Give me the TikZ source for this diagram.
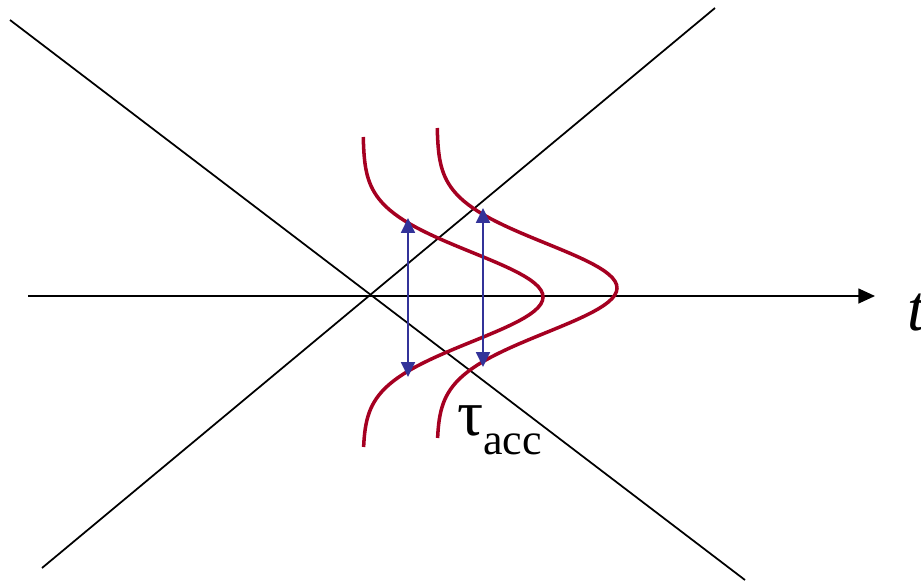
\documentclass[tikz,border=0pt]{standalone}
\usepackage{fontspec}
\setmainfont{Liberation Serif}
\usetikzlibrary{arrows.meta}
\definecolor{pulsered}{RGB}{165,0,33}
\definecolor{sweepblue}{RGB}{51,51,153}
\tikzset{
  guide/.style={line width=1pt},
  pulse/.style={pulsered,line width=2pt},
  sweep/.style={sweepblue,line width=0.85pt,{Triangle[length=8.5pt,width=8pt]}-{Triangle[length=8.5pt,width=8pt]}},
  bigtext/.style={anchor=base west,inner sep=0pt,font=\fontsize{37}{40}\selectfont}
}

\begin{document}
\begin{tikzpicture}[x=0.02cm,y=-0.02cm]
  \clip (0,0) rectangle (921,585);
  \coordinate (P) at (10,20); \coordinate (Q) at (745,580);
  \coordinate (R) at (42,568); \coordinate (S) at (715,8);
  \coordinate (O) at (28,296); \coordinate (T) at (875,296);
  \coordinate (A1) at (408,218); \coordinate (B1) at (408,377);
  \coordinate (A2) at (483,208); \coordinate (B2) at (483,367);
  \draw[guide] (P) -- (Q); \draw[guide] (R) -- (S);
  \draw[guide,-{Triangle[length=9.5pt,width=8.5pt]}] (O) -- (T);
  \draw[pulse] plot[domain=-160:150,samples=90,variable=\y] ({363+180*exp(-(\y/63)*(\y/63))},{297+\y});
  \draw[pulse] plot[domain=-160:150,samples=90,variable=\y] ({437+180*exp(-(\y/63)*(\y/63))},{288+\y});
  \draw[sweep] (A1) -- (B1); \draw[sweep] (A2) -- (B2);
  \node[bigtext] (tlab) at (907,330) {\itshape t};
  \node[bigtext] (tau) at (457,435) {τ\raisebox{-11pt}{\fontsize{25}{28}\selectfont acc}};
\end{tikzpicture}
\end{document}
